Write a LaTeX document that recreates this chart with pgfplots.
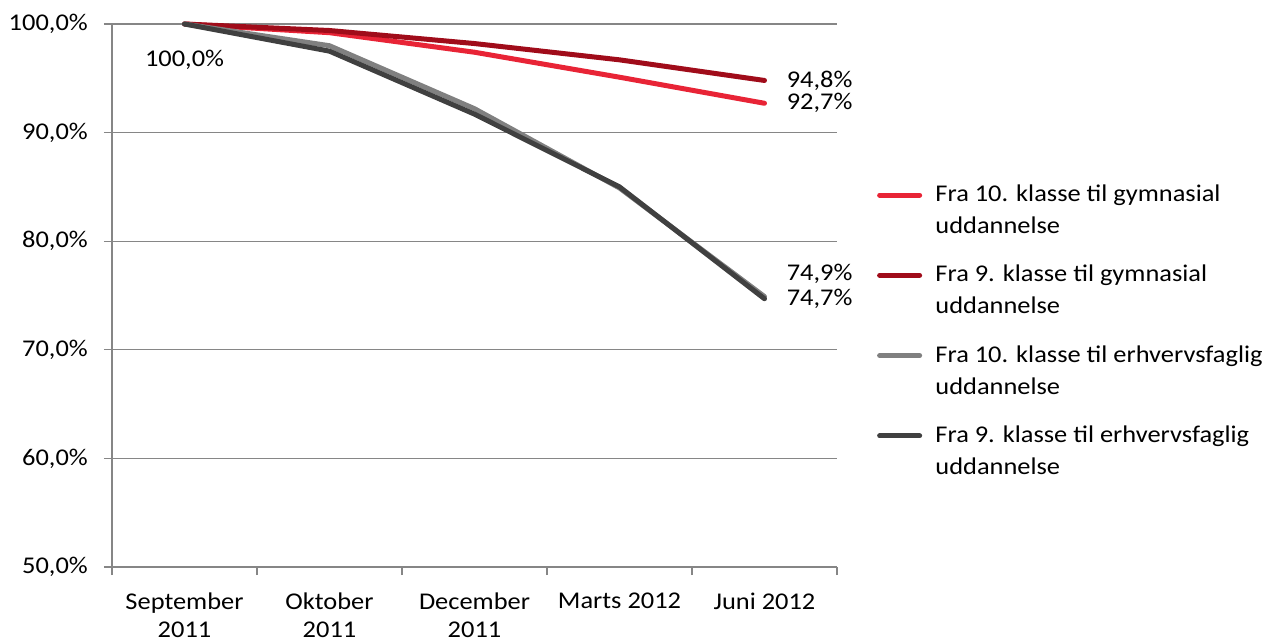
\documentclass[border=0pt]{standalone}
\usepackage{pgfplots}
\pgfplotsset{compat=1.18}
\usepackage{fontspec}
\setmainfont{Carlito}[FakeStretch=1.1]

\definecolor{lred}{RGB}{232,36,54}
\definecolor{dred}{RGB}{160,12,26}
\definecolor{lgray}{RGB}{128,128,128}
\definecolor{dgray}{RGB}{64,64,64}
\definecolor{axgray}{RGB}{134,134,134}

\begin{document}
\fontsize{18}{24}\selectfont
\begin{tikzpicture}
\useasboundingbox (-84pt,-57pt) rectangle (867pt,425.25pt);
\begin{axis}[
    scale only axis,
    width=543.75pt, height=407.25pt,
    xmin=-0.5, xmax=4.5,
    ymin=50, ymax=100,
    axis x line*=bottom, axis y line*=left,
    axis line style={axgray, line width=0.9pt},
    xtick={-0.5,0.5,1.5,2.5,3.5,4.5},
    xticklabels={},
    extra x ticks={0,1,2,3,4},
    extra x tick labels={September\\2011, Oktober\\2011, December\\2011, Marts 2012, Juni 2012},
    extra x tick style={major tick length=0pt, tick style={draw=none},
        xticklabel style={align=center, anchor=north, yshift=-13pt,
        font=\fontsize{18}{21.5}\selectfont}},
    ytick={50,60,70,80,90,100},
    yticklabels={{50,0\%},{60,0\%},{70,0\%},{80,0\%},{90,0\%},{100,0\%}},
    yticklabel style={anchor=east, inner sep=0pt, xshift=-12pt},
    tick align=outside,
    major tick length=6pt,
    tick style={axgray, line width=0.9pt},
    ymajorgrids=true,
    grid style={axgray, line width=0.9pt},
    /pgf/number format/assume math mode=true,
    every axis plot/.append style={line width=3.75pt, line cap=round, line join=round},
    legend style={at={(1.055,0.709)}, anchor=north west, draw=none, fill=none,
        inner sep=0pt, row sep=17pt, column sep=8pt,
        cells={anchor=west, align=left}},
    legend image code/.code={\path (0pt,-12pt); \draw[#1] (0pt,12pt) -- (30pt,12pt);},
    clip=false,
]
\addplot[color=lred] coordinates {(0,100) (1,99.2) (2,97.4) (3,95.1) (4,92.7)};
\addplot[color=dred] coordinates {(0,100) (1,99.4) (2,98.2) (3,96.7) (4,94.8)};
\addplot[color=lgray] coordinates {(0,100) (1,98.0) (2,92.2) (3,84.9) (4,74.9)};
\addplot[color=dgray] coordinates {(0,100) (1,97.5) (2,91.7) (3,85.0) (4,74.7)};
\legend{Fra 10. klasse til gymnasial\\uddannelse,
        Fra 9. klasse til gymnasial\\uddannelse,
        Fra 10. klasse til erhvervsfaglig\\uddannelse,
        Fra 9. klasse til erhvervsfaglig\\uddannelse}

\node at (axis cs:0,100) [yshift=-27pt] {100,0\%};
\node at (axis cs:4,94.8) [anchor=west, inner sep=0pt, xshift=16.5pt] {94,8\%};
\node at (axis cs:4,92.7) [anchor=west, inner sep=0pt, xshift=16.5pt] {92,7\%};
\node at (axis cs:4,74.7) [anchor=west, inner sep=0pt, xshift=16.5pt, yshift=19pt] {74,9\%};
\node at (axis cs:4,74.7) [anchor=west, inner sep=0pt, xshift=16.5pt] {74,7\%};
\end{axis}
\end{tikzpicture}
\end{document}
